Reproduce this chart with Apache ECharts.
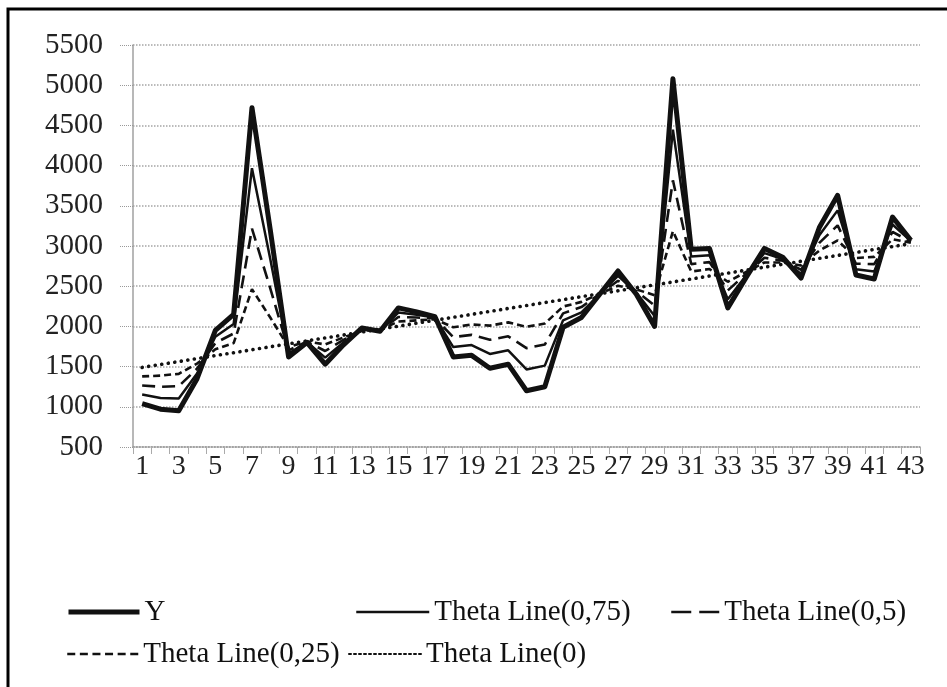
<!DOCTYPE html>
<html>
<head>
<meta charset="utf-8">
<script src="https://cdn.jsdelivr.net/npm/echarts@6/dist/echarts.min.js"></script>
<style>html,body{margin:0;padding:0;background:#fff;}#c{width:947px;height:687px;}</style>
</head>
<body>
<div id="c"></div>
<script>
const categories = ['1','2','3','4','5','6','7','8','9','10','11','12','13','14','15','16','17','18','19','20','21','22','23','24','25','26','27','28','29','30','31','32','33','34','35','36','37','38','39','40','41','42','43'];
const yValues = [1040,970,950,1350,1950,2150,4720,3200,1620,1800,1530,1770,1980,1940,2230,2180,2120,1620,1640,1480,1530,1200,1250,1990,2110,2400,2690,2400,2000,5080,2960,2970,2230,2610,2970,2860,2600,3230,3630,2640,2590,3360,3070];
const theta075 = [1153,1109,1103,1413,1872,2031,3968,2837,1661,1805,1612,1801,1968,1947,2173,2145,2109,1743,1768,1657,1703,1465,1512,2076,2175,2402,2628,2420,2129,4448,2868,2884,2338,2633,2912,2838,2653,3134,3443,2710,2682,3268,3060];
const theta05 = [1265,1249,1257,1475,1794,1912,3215,2474,1702,1810,1694,1832,1955,1954,2117,2110,2099,1867,1895,1834,1877,1730,1774,2162,2240,2404,2567,2440,2259,3817,2775,2799,2447,2655,2854,2817,2705,3039,3257,2780,2774,3177,3050];
const theta025 = [1378,1388,1410,1538,1715,1792,2463,2110,1742,1815,1775,1862,1943,1960,2060,2075,2088,1990,2023,2010,2050,1995,2035,2247,2305,2405,2505,2460,2388,3185,2683,2713,2555,2678,2795,2795,2758,2943,3070,2850,2865,3085,3040];
const theta0 = [1490,1527,1563,1600,1637,1673,1710,1747,1783,1820,1857,1893,1930,1967,2003,2040,2077,2113,2150,2187,2223,2260,2297,2333,2370,2407,2443,2480,2517,2553,2590,2627,2663,2700,2737,2773,2810,2847,2883,2920,2957,2993,3030];
const seriesNames = ['Y','Theta Line(0,75)','Theta Line(0,5)','Theta Line(0,25)','Theta Line(0)'];

const FONT = 'Liberation Serif';
const INK = '#111';
const chart = echarts.init(document.getElementById('c'), null, {renderer:'canvas'});

function legendItem(name, left, top, w, lineStyle){
  return {
    data:[name], left:left, top:top, orient:'horizontal', padding:0,
    itemWidth:w, itemHeight:14, itemGap:0, selectedMode:false,
    lineStyle:lineStyle,
    itemStyle:{opacity:0},
    textStyle:{fontFamily:FONT, fontSize:29, color:INK, lineHeight:34, padding:[0,0,0,0]}
  };
}

chart.setOption({
  animation:false,
  backgroundColor:'#fff',
  graphic:[{type:'rect', shape:{x:8, y:9, width:1200, height:1000}, style:{fill:'none', stroke:'#000', lineWidth:3}, silent:true}],
  grid:{left:133, right:27, top:45, bottom:240, containLabel:false},
  legend:[
    legendItem(seriesNames[0], 66, 595, 71, {width:5, type:'solid', color:INK}),
    legendItem(seriesNames[1], 355, 595, 73, {width:2.5, type:'solid', color:INK}),
    legendItem(seriesNames[2], 670, 595, 48, {width:2.5, type:[20,8], color:INK}),
    legendItem(seriesNames[3], 66, 637, 71, {width:2.5, type:[8,4.6], color:INK}),
    legendItem(seriesNames[4], 348, 637, 72, {width:2, type:[2,3], color:INK})
  ],
  xAxis:{
    type:'category', data:categories, boundaryGap:true,
    axisLine:{show:true, lineStyle:{color:'#9a9a9a', width:1.5, type:'dotted'}},
    axisTick:{show:true, interval:0, length:7, lineStyle:{color:'#aaa', width:1}},
    axisLabel:{interval:1, margin:6, fontFamily:FONT, fontSize:28, color:'#222'},
    splitLine:{show:false}
  },
  yAxis:{
    type:'value', min:500, max:5500, interval:500,
    axisLine:{show:true, lineStyle:{color:'#a0a0a0', width:1.5}},
    axisTick:{show:true, length:13, lineStyle:{color:'#999', width:1, type:'dotted'}},
    axisLabel:{margin:30, fontFamily:FONT, fontSize:29, color:'#222', formatter:function(v){return String(v);}},
    splitLine:{show:true, lineStyle:{color:'#a5a5a5', width:1.5, type:'dotted'}}
  },
  series:[
    {name:seriesNames[4], type:'line', data:theta0, symbol:'none', z:2,
     lineStyle:{color:INK, width:3.6, type:[0.1,6.5], cap:'round'}},
    {name:seriesNames[3], type:'line', data:theta025, symbol:'none', z:3,
     lineStyle:{color:INK, width:2.6, type:[7,4]}},
    {name:seriesNames[2], type:'line', data:theta05, symbol:'none', z:4,
     lineStyle:{color:INK, width:2.6, type:[13,7]}},
    {name:seriesNames[1], type:'line', data:theta075, symbol:'none', z:5,
     lineStyle:{color:INK, width:2.5, type:'solid'}},
    {name:seriesNames[0], type:'line', data:yValues, symbol:'none', z:6,
     lineStyle:{color:INK, width:5, type:'solid', join:'round'}}
  ]
});
</script>
</body>
</html>
